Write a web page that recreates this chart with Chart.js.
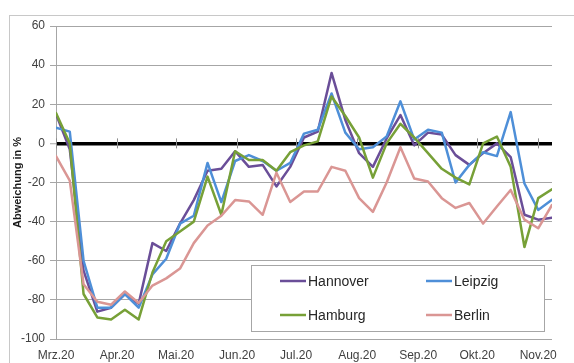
<!DOCTYPE html>
<html lang="de">
<head>
<meta charset="utf-8">
<title>Abweichung in %</title>
<script src="https://cdn.jsdelivr.net/npm/chart.js@4.4.1/dist/chart.umd.min.js"></script>
<style>
  html, body { margin: 0; padding: 0; background: #fff; }
  canvas { display: block; }
</style>
</head>
<body>
<canvas id="chart" width="574" height="363"></canvas>
<script>
// Weekly deviation in %, one value per week starting 1 March 2020
const seriesNames = ['Hannover', 'Leipzig', 'Hamburg', 'Berlin'];

const hannover = [15, -3, -65, -86, -84, -77, -82, -51, -55, -41, -29, -14, -13, -4, -12, -11, -22, -12, 3, 6,
  36, 12, -5, -12, 2.5, 14.5, -1, 5.5, 4.5, -6, -11, -5, 0, -7, -36.5, -39, -38];
const leipzig = [8, 6, -60, -84, -84, -77, -84, -67, -59, -41, -37, -10, -30, -9, -6, -9, -14, -10, 5, 7,
  25.5, 5.5, -3, -2, 3.5, 21.5, 2, 7, 5.5, -20, -11, -4.5, -6.5, 16, -20.5, -34, -28.8];
const hamburg = [15.5, 0, -77, -89, -90, -85, -90, -66, -50, -45, -40, -17, -36.5, -4, -8.5, -8.5, -14, -4.5, -1, 1,
  24, 14, 3, -17.5, 0, 10, 3, -5, -13, -17.5, -21, 0, 3.5, -12, -53, -28, -23.5];
const berlin = [-6.5, -19, -72, -81, -82.5, -75.7, -81.6, -72.7, -69, -64, -51, -42, -37, -29, -29.7, -36.5, -15, -30, -24.6, -24.6,
  -12, -14, -28, -35, -20, -2, -18, -19.5, -28, -33, -30.5, -41, -32.3, -23.8, -39, -43.4, -31.5];

// Month tick labels (first day of each month)
const monthLabels = ['Mrz.20', 'Apr.20', 'Mai.20', 'Jun.20', 'Jul.20', 'Aug.20', 'Sep.20', 'Okt.20', 'Nov.20'];
const monthNumbers = [2, 3, 4, 5, 6, 7, 8, 9, 10];

const yTicks = [-100, -80, -60, -40, -20, 0, 20, 40, 60];

const DAY = 86400000;
const startDay = Date.UTC(2020, 2, 1);
const monthDays = monthNumbers.map(m => Math.round((Date.UTC(2020, m, 1) - startDay) / DAY));
const toPoints = arr => arr.map((v, i) => ({ x: i * 7, y: v }));
const lastDay = (hannover.length - 1) * 7;

const colors = ['#6A4E98', '#4E8FD8', '#77A037', '#DA9694'];
const values = [hannover, leipzig, hamburg, berlin];

const GRID = '#a6a6a6';
const FONT = '"Liberation Sans", Arial, sans-serif';

// White page, outer frame, and month marks on the zero axis
const frame = {
  id: 'frame',
  beforeDraw(chart) {
    const ctx = chart.ctx;
    ctx.save();
    ctx.fillStyle = '#fff';
    ctx.fillRect(0, 0, chart.width, chart.height);
    ctx.strokeStyle = '#c8c8c8';
    ctx.lineWidth = 1;
    ctx.strokeRect(9.5, 15.5, chart.width + 10, chart.height + 10);
    ctx.restore();
  },
  beforeDatasetsDraw(chart) {
    const ctx = chart.ctx;
    const xs = chart.scales.x, ys = chart.scales.y;
    const y0 = ys.getPixelForValue(0);
    ctx.save();
    ctx.strokeStyle = '#8c8c8c';
    ctx.lineWidth = 1;
    monthDays.forEach(d => {
      const px = Math.round(xs.getPixelForValue(d)) + 0.5;
      ctx.beginPath();
      ctx.moveTo(px, y0 - 5);
      ctx.lineTo(px, y0 + 5);
      ctx.stroke();
    });
    ctx.restore();
  }
};

// Boxed legend inside the plot, two columns
const boxLegend = {
  id: 'boxLegend',
  afterDatasetsDraw(chart, args, opts) {
    const ctx = chart.ctx;
    const b = opts.box;
    ctx.save();
    ctx.fillStyle = '#fff';
    ctx.fillRect(b.x, b.y, b.w, b.h);
    ctx.strokeStyle = GRID;
    ctx.lineWidth = 1;
    ctx.strokeRect(b.x + 0.5, b.y + 0.5, b.w, b.h);
    ctx.font = '14px ' + FONT;
    ctx.textBaseline = 'middle';
    ctx.textAlign = 'left';
    chart.data.datasets.forEach((ds, i) => {
      const lx = opts.cols[i % 2];
      const ly = opts.rows[Math.floor(i / 2)];
      ctx.strokeStyle = ds.borderColor;
      ctx.lineWidth = 2.5;
      ctx.beginPath();
      ctx.moveTo(lx, ly);
      ctx.lineTo(lx + 26, ly);
      ctx.stroke();
      ctx.fillStyle = '#262626';
      ctx.fillText(ds.label, lx + 28, ly + 1);
    });
    ctx.restore();
  }
};

new Chart(document.getElementById('chart'), {
  type: 'line',
  data: {
    datasets: seriesNames.map((name, i) => ({
      label: name,
      data: toPoints(values[i]),
      borderColor: colors[i],
      backgroundColor: colors[i],
      borderWidth: 2.5,
      pointRadius: 0,
      tension: 0,
      borderJoinStyle: 'round',
      borderCapStyle: 'round',
      order: seriesNames.length - i
    }))
  },
  options: {
    responsive: false,
    animation: false,
    events: [],
    layout: { padding: { top: 26, right: 22, left: 0, bottom: 0 } },
    plugins: {
      legend: { display: false },
      tooltip: { enabled: false },
      boxLegend: {
        box: { x: 251, y: 265, w: 293, h: 66 },
        cols: [280, 426],
        rows: [281, 315]
      }
    },
    scales: {
      x: {
        type: 'linear',
        min: 0,
        max: lastDay,
        afterBuildTicks(scale) {
          scale.ticks = monthDays.map(v => ({ value: v }));
        },
        afterFit(scale) { scale.height = 24; },
        grid: { display: false, drawTicks: false },
        border: { display: false },
        ticks: {
          autoSkip: false,
          maxRotation: 0,
          padding: 9,
          color: '#404040',
          font: { family: FONT, size: 12 },
          callback: (v, i) => monthLabels[i]
        }
      },
      y: {
        min: -100,
        max: 60,
        afterBuildTicks(scale) {
          scale.ticks = yTicks.map(v => ({ value: v }));
        },
        afterFit(scale) { scale.width = 56; },
        grid: {
          color: c => (c.tick && c.tick.value === 0 ? '#000' : GRID),
          lineWidth: c => (c.tick && c.tick.value === 0 ? 3.5 : 1),
          tickColor: GRID,
          tickWidth: 1,
          tickLength: 6,
          drawTicks: true
        },
        border: { display: true, color: GRID, width: 1 },
        ticks: {
          padding: 5,
          color: '#404040',
          font: { family: FONT, size: 12 }
        },
        title: {
          display: true,
          text: 'Abweichung in %',
          color: '#1a1a1a',
          font: { family: FONT, size: 11, weight: 'bold' },
          padding: { top: 11, bottom: 0 }
        }
      }
    }
  },
  plugins: [frame, boxLegend]
});
</script>
</body>
</html>
